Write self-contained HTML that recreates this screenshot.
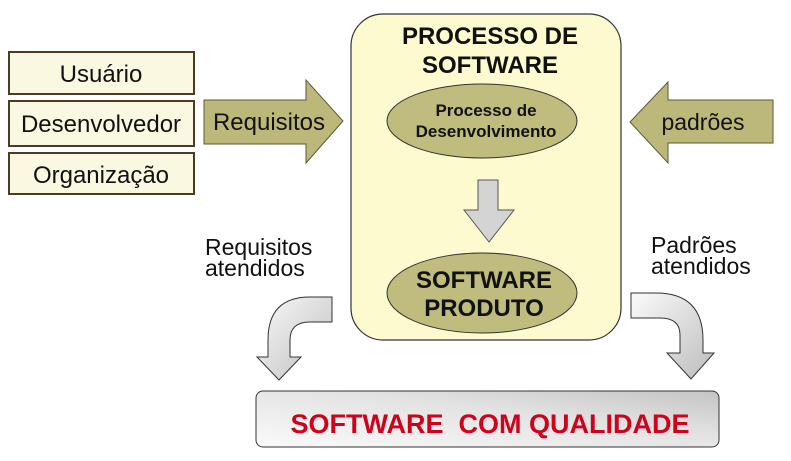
<!DOCTYPE html>
<html><head><meta charset="utf-8"><style>body{margin:0;background:#fff}svg{display:block;font-family:"Liberation Sans",sans-serif}</style></head><body>
<svg width="791" height="461" viewBox="0 0 791 461">
<defs>
<linearGradient id="g" x1="0" y1="0" x2="1" y2="1"><stop offset="0" stop-color="#fafafa"/><stop offset="1" stop-color="#bdbdbd"/></linearGradient>
<linearGradient id="gb" x1="0" y1="1" x2="1" y2="0"><stop offset="0" stop-color="#fafafa"/><stop offset="0.6" stop-color="#e2e2e2"/><stop offset="1" stop-color="#c4c4c4"/></linearGradient>
</defs>
<g stroke="#4a3a26" stroke-width="2" fill="#fbf8e2">
<rect x="9" y="52" width="185" height="42"/>
<rect x="9" y="101" width="185" height="45"/>
<rect x="9" y="153" width="185" height="41"/>
</g>
<g font-size="24" text-anchor="middle" fill="#111">
<text x="101" y="82">Usuário</text>
<text x="101" y="132">Desenvolvedor</text>
<text x="101" y="183">Organização</text>
</g>
<polygon points="204,100 306,100 306,80 343,121 306,163 306,144 204,144" fill="#bcb87a" stroke="#5a5a3a" stroke-width="1"/>
<text x="269" y="130" font-size="24" text-anchor="middle" fill="#111">Requisitos</text>
<polygon points="773,100 668,100 668,82 630,122 668,163 668,143 773,143" fill="#bcb87a" stroke="#5a5a3a" stroke-width="1"/>
<text x="703" y="130" font-size="23" text-anchor="middle" fill="#111">padrões</text>
<rect x="351" y="14" width="270" height="326" rx="32" fill="#fdfad0" stroke="#333" stroke-width="1.2"/>
<g font-weight="bold" font-size="24" text-anchor="middle" fill="#111">
<text x="490" y="44">PROCESSO DE</text>
<text x="490" y="73">SOFTWARE</text>
</g>
<ellipse cx="482" cy="121" rx="95" ry="37" fill="#bfbc7e" stroke="#333" stroke-width="1"/>
<g font-weight="bold" font-size="17" text-anchor="middle" fill="#111">
<text x="486" y="116">Processo de</text>
<text x="486" y="137">Desenvolvimento</text>
</g>
<polygon points="478,180 498,180 498,210 514,210 489,242 464,210 478,210" fill="#d4d4d4" stroke="#555" stroke-width="1"/>
<ellipse cx="482" cy="293" rx="95" ry="40" fill="#bfbc7e" stroke="#333" stroke-width="1"/>
<g font-weight="bold" font-size="24" text-anchor="middle" fill="#111">
<text x="484" y="288">SOFTWARE</text>
<text x="484" y="316">PRODUTO</text>
</g>
<g font-size="23" fill="#111">
<text x="205" y="255">Requisitos</text>
<text x="205" y="276">atendidos</text>
<text x="651" y="253">Padrões</text>
<text x="651" y="274">atendidos</text>
</g>
<path d="M332,297 L310,297 Q268,297 268,340 L268,357 L257,357 L279,380 L301,357 L290,357 L290,340 Q290,322 310,322 L332,322 Z" fill="url(#g)" stroke="#333" stroke-width="1"/>
<path d="M631,293 L656,293 Q703,293 703,340 L703,353 L714,353 L691,379 L667,353 L680,353 L680,335 Q680,318 660,318 L631,318 Z" fill="url(#g)" stroke="#333" stroke-width="1"/>
<rect x="256" y="391" width="463" height="56" rx="7" fill="url(#gb)" stroke="#333" stroke-width="1"/>
<text x="490" y="433" font-size="27" font-weight="bold" fill="#d0021b" text-anchor="middle" xml:space="preserve">SOFTWARE  COM QUALIDADE</text>
</svg>
</body></html>
